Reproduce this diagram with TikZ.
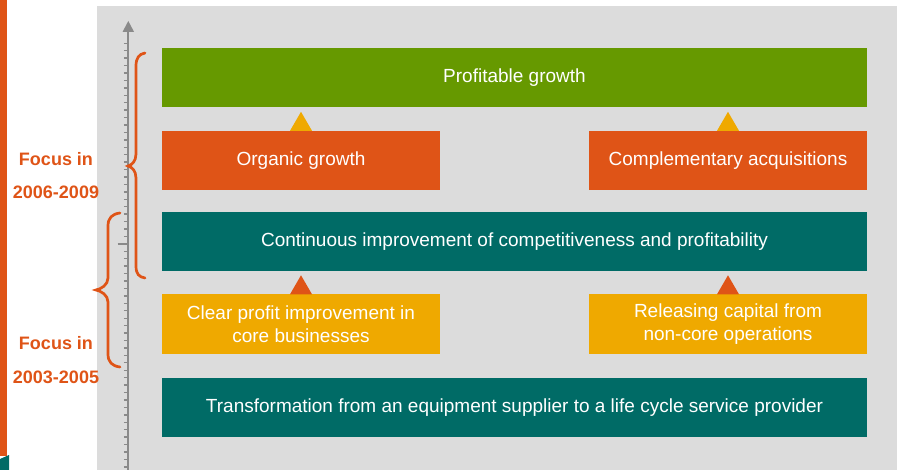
\documentclass[tikz,border=0pt]{standalone}
\usepackage{fontspec}
\setmainfont{Liberation Sans}
\definecolor{bggray}{HTML}{DCDCDC}
\definecolor{cgreen}{HTML}{669900}
\definecolor{corange}{HTML}{DF5417}
\definecolor{cteal}{HTML}{006B66}
\definecolor{cyellow}{HTML}{EFA900}
\definecolor{axgray}{HTML}{8A8A8A}
\tikzset{
  box/.style={inner sep=0pt, text=white, align=center, font=\fontsize{19}{23}\selectfont},
  widebox/.style={box, minimum width=705pt, minimum height=59pt},
  halfbox/.style={box, minimum width=278pt, minimum height=59pt},
  focus/.style={text=corange, font=\bfseries\fontsize{18}{20}\selectfont},
  brace/.style={draw=corange, line width=2.7pt, line cap=round},
  tick/.style={axgray, line width=1.4pt},
}
\begin{document}
\begin{tikzpicture}[x=1pt,y=-1pt]
\useasboundingbox (0,0) rectangle (897,470);
% background
\fill[bggray] (97,6) rectangle (897,470);
\fill[corange] (0,0) rectangle (7,456);
\fill[cteal] (0,459) -- (9,455) -- (9,470) -- (0,470) -- cycle;
% axis
\draw[axgray, line width=2pt] (128.3,30) -- (128.3,470);
\fill[axgray] (122.5,32) -- (134.1,32) -- (128.3,21) -- cycle;
\foreach \k in {0,...,57} {
  \draw[tick] (123.8,43.3+7.43*\k) -- (128.3,43.3+7.43*\k);
}
\draw[tick] (117.5,243.9) -- (128.3,243.9);
% boxes
\node[widebox, fill=cgreen] (pg) at (514.5,77.5) {Profitable growth};
\node[halfbox, fill=corange] (og) at (301,160.5) {Organic growth};
\node[halfbox, fill=corange] (ca) at (728,160.5) {Complementary acquisitions};
\node[widebox, fill=cteal] (ci) at (514.5,242) {Continuous improvement of competitiveness and profitability};
\node[halfbox, fill=cyellow] (cp) at (301,324) {Clear profit improvement in\\core businesses};
\node[halfbox, fill=cyellow] (rc) at (728,324) {Releasing capital from\\non-core operations};
\node[widebox, fill=cteal] (tr) at (514.5,407.5) {Transformation from an equipment supplier to a life cycle service provider};
% triangles
\fill[cyellow] ([xshift=-11pt]og.north) -- ([xshift=11pt]og.north) -- ([yshift=19pt]og.north) -- cycle;
\fill[cyellow] ([xshift=-11pt]ca.north) -- ([xshift=11pt]ca.north) -- ([yshift=19pt]ca.north) -- cycle;
\fill[corange] ([xshift=-11pt]cp.north) -- ([xshift=11pt]cp.north) -- ([yshift=19pt]cp.north) -- cycle;
\fill[corange] ([xshift=-11pt]rc.north) -- ([xshift=11pt]rc.north) -- ([yshift=19pt]rc.north) -- cycle;
% braces
\draw[brace] (145,53) .. controls (139,54) and (136,58) .. (136,66) -- (136,154)
  .. controls (136,161) and (132,165) .. (128,166)
  .. controls (132,167) and (136,171) .. (136,178) -- (136,266)
  .. controls (136,274) and (139,277) .. (145,278);
\draw[brace] (120,213) .. controls (112,214) and (108,218) .. (108,226) -- (108,278)
  .. controls (108,285) and (101,289) .. (96,290)
  .. controls (101,291) and (108,295) .. (108,302) -- (108,354)
  .. controls (108,362) and (112,366) .. (120,367);
% labels
\node[focus] (f1) at (56,159) {Focus in};
\node[focus] (y1) at (56,192) {2006-2009};
\node[focus] (f2) at (56,343) {Focus in};
\node[focus] (y2) at (56,377) {2003-2005};
\end{tikzpicture}
\end{document}
